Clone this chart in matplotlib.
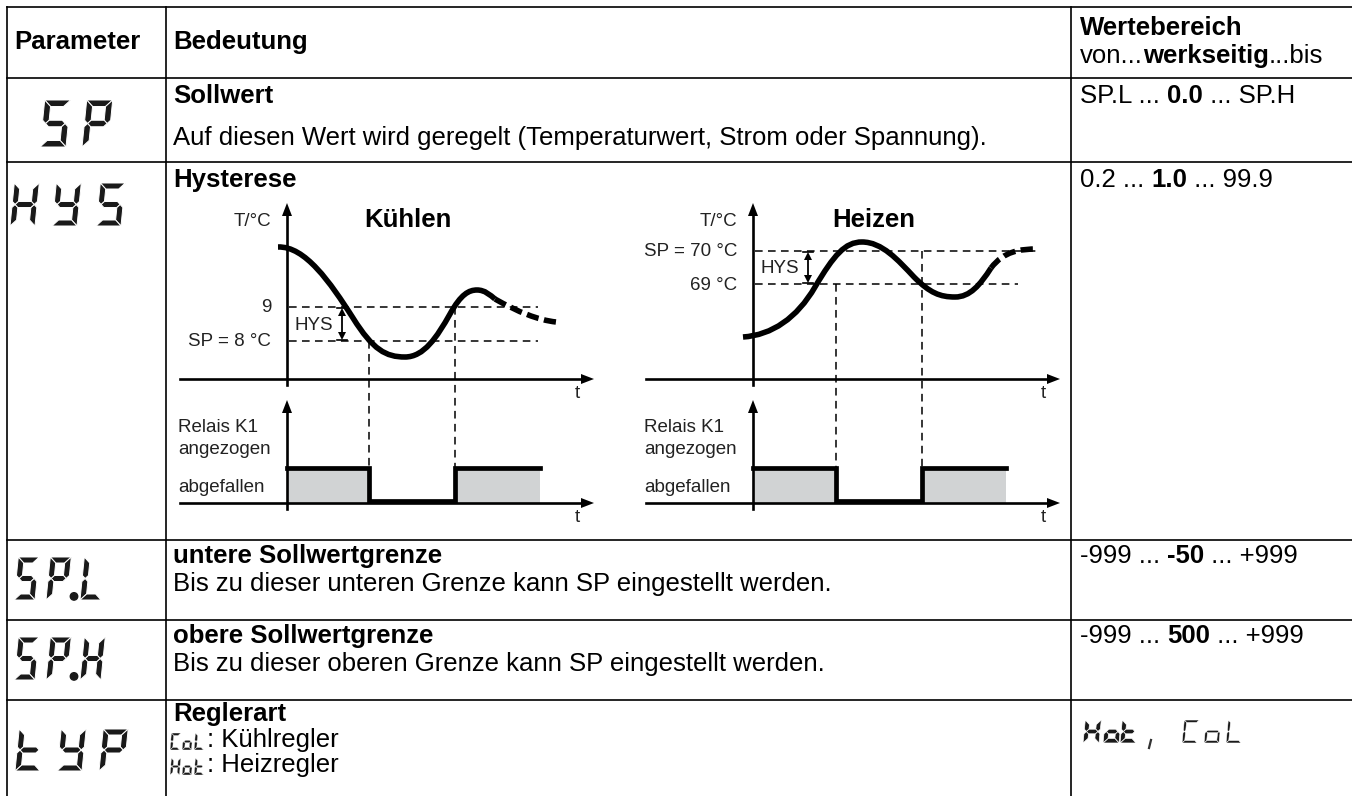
import matplotlib.pyplot as plt
from matplotlib.path import Path
from matplotlib.patches import PathPatch, Polygon, Rectangle, Circle

# Schriften: Liberation Sans hat die gleichen Maße wie Helvetica/Arial
plt.rcParams['font.family'] = ['Liberation Sans', 'DejaVu Sans']

# ---------------- Tabelleninhalt ----------------
col_x = [7, 166, 1071]
row_y = [7, 78, 162, 540, 620, 700]

params = ['SP', 'HYS', 'SP.L', 'SP.H', 'tYP']
titles = ['Sollwert', 'Hysterese', 'untere Sollwertgrenze', 'obere Sollwertgrenze', 'Reglerart']
descs = ['Auf diesen Wert wird geregelt (Temperaturwert, Strom oder Spannung).',
         '',
         'Bis zu dieser unteren Grenze kann SP eingestellt werden.',
         'Bis zu dieser oberen Grenze kann SP eingestellt werden.',
         '']
ranges = [[('SP.L ... ', False), ('0.0', True), (' ... SP.H', False)],
          [('0.2 ... ', False), ('1.0', True), (' ... 99.9', False)],
          [('-999 ... ', False), ('-50', True), (' ... +999', False)],
          [('-999 ... ', False), ('500', True), (' ... +999', False)]]
typ_codes = ['CoL', 'Hot']
typ_texts = [': Kühlregler', ': Heizregler']

# ---------------- Diagramme (Pixel, y nach unten) ----------------
# Kühlen: Temperaturkurve als Bezier-Kontrollpunkte
cool_curve = [(278, 247), (305, 246), (330, 282), (353, 318),
              (373, 350), (386, 357), (405, 357),
              (424, 357), (437, 337), (450, 314),
              (461, 294), (469, 290), (477, 290),
              (485, 290), (490, 295), (495, 299)]
cool_tail = [(495, 299), (518, 312), (538, 320), (556, 322)]
cool_levels = [307, 341]
cool_level_labels = ['9', 'SP = 8 °C']
cool_switch = [369, 455]

heat_curve = [(743, 337), (772, 335), (797, 318), (815, 287),
              (834, 255), (845, 242), (862, 242),
              (882, 242), (898, 260), (914, 277),
              (930, 293), (940, 297), (955, 297),
              (970, 297), (980, 285), (991, 268)]
heat_tail = [(991, 268), (1004, 251), (1020, 249), (1038, 249)]
heat_levels = [251, 284]
heat_level_labels = ['SP = 70 °C', '69 °C']
heat_switch = [836, 922]

W, H = 1352, 796
fig = plt.figure(figsize=(W / 100, H / 100), dpi=100)
ax = fig.add_axes([0, 0, 1, 1])
ax.set_xlim(0, W)
ax.set_ylim(H, 0)
ax.axis('off')
renderer = fig.canvas.get_renderer()

FS = 18.5      # Fließtext
FS_D = 13.5    # Beschriftung in den Diagrammen
GRAY = '#d1d3d4'
INK = '#1a1a1a'

# Tabellenlinien
for y in row_y:
    ax.plot([col_x[0], W], [y, y], color='black', lw=1.2)
for x in col_x:
    ax.plot([x, x], [row_y[0], H], color='black', lw=1.2)


def rich(x, y, parts, size=FS):
    for s, bold in parts:
        t = ax.text(x, y, s, fontsize=size, fontweight='bold' if bold else 'normal',
                    ha='left', va='center')
        x += t.get_window_extent(renderer).width
    return x


# --- Siebensegment-Zeichen ---
SEGS = {'S': 'afgcd', 'P': 'abfge', 'H': 'bcefg', 'Y': 'bcdfg', 'L': 'fed',
        't': 'defg', 'o': 'cdeg', 'C': 'afed'}


def seg_shape(s, w, h, t):
    hh = h / 2
    shapes = {
        'a': [(0, h), (w, h), (w - t, h - t), (t, h - t)],
        'd': [(0, 0), (w, 0), (w - t, t), (t, t)],
        'f': [(0, h), (t, h - t), (t, hh + t / 2), (t / 2, hh), (0, hh + t / 2)],
        'e': [(0, 0), (t, t), (t, hh - t / 2), (t / 2, hh), (0, hh - t / 2)],
        'b': [(w, h), (w - t, h - t), (w - t, hh + t / 2), (w - t / 2, hh), (w, hh + t / 2)],
        'c': [(w, 0), (w - t, t), (w - t, hh - t / 2), (w - t / 2, hh), (w, hh - t / 2)],
        'g': [(t / 2, hh), (t, hh + t / 2), (w - t, hh + t / 2), (w - t / 2, hh),
              (w - t, hh - t / 2), (t, hh - t / 2)],
    }
    return shapes[s]


def seg7(text, xs, ybot, h, w, t=5.5, slant=0.1, sep=0.7):
    # xs: linke Kante jedes Zeichens (Punkt zählt als eigenes Zeichen)
    for ch, x in zip(text, xs):
        if ch == '.':
            ax.add_patch(Circle((x, ybot - t * 0.6), t * 0.62, color=INK))
            continue
        for s in SEGS[ch]:
            pts = seg_shape(s, w, h, t)
            ax.add_patch(Polygon([(x + px + slant * py, ybot - py) for px, py in pts],
                                 closed=True, facecolor=INK, edgecolor='white', lw=sep))


# Kopfzeile
ax.text(14, 42, 'Parameter', fontsize=FS, fontweight='bold', va='center')
ax.text(173, 42, 'Bedeutung', fontsize=FS, fontweight='bold', va='center')
ax.text(1080, 28, 'Wertebereich', fontsize=FS, fontweight='bold', va='center')
rich(1080, 56, [('von...', False), ('werkseitig', True), ('...bis', False)])

# Zeilen
title_y = [96, 180, 556, 636, 714]
desc_y = [138, None, 584, 664, None]
for i in range(5):
    ax.text(173, title_y[i], titles[i], fontsize=FS, fontweight='bold', va='center')
    if descs[i]:
        ax.text(173, desc_y[i], descs[i], fontsize=FS, va='center')
    if i < 4:
        rich(1080, title_y[i], ranges[i])

# Parameter als Siebensegmentanzeige
seg7(params[0], [40, 82], 147, 47, 26, t=6.5)
seg7(params[1], [10, 52, 96], 226, 43, 25, t=6)
seg7(params[2], [14, 46, 74, 80], 600, 43, 21, t=6)
seg7(params[3], [14, 46, 74, 80], 680, 43, 21, t=6)
seg7(params[4], [15, 57, 99], 771, 42, 25, t=6)

# Reglerart
code_y = [750, 775]
text_y = [740, 765]
for i in range(2):
    seg7(typ_codes[i], [170, 182, 194], code_y[i], 17, 9.5, t=2.6, slant=0.08, sep=0.3)
    ax.text(207, text_y[i], typ_texts[i], fontsize=FS, va='center')
seg7(typ_codes[1], [1083, 1103, 1120], 743, 23, 16, t=4.6, slant=0.1, sep=0.5)
ax.plot([1151, 1149], [740, 748], color='#333333', lw=1.6)
seg7(typ_codes[0], [1182, 1204, 1226], 743, 23, 15, t=2.5, slant=0.1, sep=0.4)


# ---------------- Diagramme ----------------
def arrow_up(x, y):
    ax.add_patch(Polygon([(x, y), (x - 5, y + 13), (x + 5, y + 13)], color='black', lw=0))


def arrow_right(x, y):
    ax.add_patch(Polygon([(x, y), (x - 13, y - 5), (x - 13, y + 5)], color='black', lw=0))


def bezier(points, **kw):
    codes = [Path.MOVETO] + [Path.CURVE4] * (len(points) - 1)
    ax.add_patch(PathPatch(Path(points, codes), fill=False, capstyle='butt', **kw))


def diagram(ax0, title, curve, tail, levels, level_labels, switch, hline_end):
    # obere Achsen
    ax.plot([ax0, ax0], [385, 210], color='black', lw=1.9)
    arrow_up(ax0, 203)
    ax.plot([ax0 - 107, ax0 + 295], [379, 379], color='black', lw=1.9)
    arrow_right(ax0 + 307, 379)
    ax.text(ax0 + 290, 394, 't', fontsize=FS_D, ha='center', va='center', color='#222222')
    ax.text(ax0 - 16, 222, 'T/°C', fontsize=FS_D, ha='right', va='center', color='#222222')
    ax.text(ax0 + 121, 220, title, fontsize=FS, fontweight='bold', ha='center', va='center')
    # Schaltschwellen
    for k, y in enumerate(levels):
        ax.plot([ax0 + 2, hline_end[k]], [y, y], color='black', lw=1.1, ls=(0, (5, 3.5)))
        ax.text(ax0 - 16, y + 1, level_labels[k], fontsize=FS_D, ha='right', va='center',
                color='#222222')
    # HYS Doppelpfeil
    hx = ax0 + 55
    y1, y2 = levels[0] + 1, levels[1] - 1
    ax.plot([hx, hx], [y1 + 6, y2 - 6], color='black', lw=1.3)
    ax.add_patch(Polygon([(hx, y1), (hx - 4, y1 + 8), (hx + 4, y1 + 8)], color='black', lw=0))
    ax.add_patch(Polygon([(hx, y2), (hx - 4, y2 - 8), (hx + 4, y2 - 8)], color='black', lw=0))
    ax.plot([hx - 5, hx + 5], [y1, y1], color='black', lw=1.2)
    ax.plot([hx - 5, hx + 5], [y2, y2], color='black', lw=1.2)
    ax.text(hx - 9, (y1 + y2) / 2 + 1, 'HYS', fontsize=FS_D, ha='right', va='center',
            color='#222222')
    # Kurve
    bezier(curve, lw=4.0, edgecolor='black')
    bezier(tail, lw=4.0, edgecolor='black', linestyle=(0, (2.2, 1)))
    # senkrechte Schaltlinien
    ax.plot([switch[0], switch[0]], [levels[1], 468], color='black', lw=1.1, ls=(0, (5, 3.5)))
    ax.plot([switch[1], switch[1]], [levels[0], 468], color='black', lw=1.1, ls=(0, (5, 3.5)))
    # Relais
    ax.plot([ax0, ax0], [509, 412], color='black', lw=1.9)
    arrow_up(ax0, 400)
    ax.plot([ax0 - 107, ax0 + 295], [503, 503], color='black', lw=1.9)
    arrow_right(ax0 + 307, 503)
    ax.text(ax0 + 290, 518, 't', fontsize=FS_D, ha='center', va='center', color='#222222')
    ax.add_patch(Rectangle((ax0 + 1, 468), switch[0] - ax0 - 1, 35, color=GRAY, lw=0))
    ax.add_patch(Rectangle((switch[1], 468), ax0 + 253 - switch[1], 35, color=GRAY, lw=0))
    ax.plot([ax0, switch[0], switch[0], switch[1], switch[1], ax0 + 253],
            [468, 468, 501, 501, 468, 468], color='black', lw=3.4, solid_joinstyle='miter')
    ax.text(ax0 - 109, 427, 'Relais K1', fontsize=FS_D, va='center', color='#222222')
    ax.text(ax0 - 109, 449, 'angezogen', fontsize=FS_D, va='center', color='#222222')
    ax.text(ax0 - 109, 487, 'abgefallen', fontsize=FS_D, va='center', color='#222222')


diagram(287, 'Kühlen', cool_curve, cool_tail, cool_levels, cool_level_labels, cool_switch,
        [538, 538])
diagram(753, 'Heizen', heat_curve, heat_tail, heat_levels, heat_level_labels, heat_switch,
        [1037, 1018])

fig.savefig('out.png', dpi=100)
